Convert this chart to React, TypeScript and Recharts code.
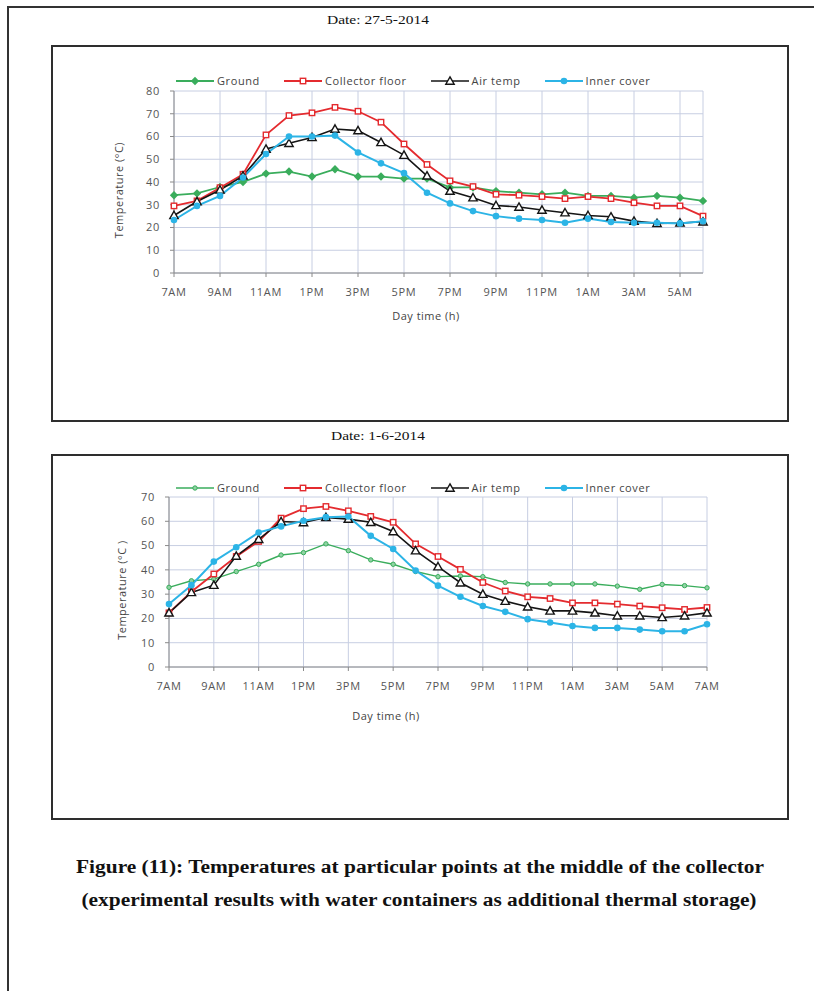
import React from 'react';
import { LineChart, Line, XAxis, YAxis, CartesianGrid, Legend } from 'recharts';

// hour labels (one per reading)
const hoursDay1 = ['7AM', '8AM', '9AM', '10AM', '11AM', '12PM', '1PM', '2PM', '3PM', '4PM', '5PM', '6PM',
  '7PM', '8PM', '9PM', '10PM', '11PM', '12AM', '1AM', '2AM', '3AM', '4AM', '5AM', '6AM'];
const hoursDay2 = ['7AM', '8AM', '9AM', '10AM', '11AM', '12PM', '1PM', '2PM', '3PM', '4PM', '5PM', '6PM',
  '7PM', '8PM', '9PM', '10PM', '11PM', '12AM', '1AM', '2AM', '3AM', '4AM', '5AM', '6AM', '7AM'];

// Date: 27-5-2014
const groundDay1 = [34.2, 35, 37.8, 40, 43.7, 44.6, 42.4, 45.6, 42.4, 42.4, 41.5, 41.5, 37.6, 37.6, 36, 35.3, 34.6, 35.3, 33.9, 33.9, 33.1, 33.9, 33.1, 31.7];
const collectorDay1 = [29.5, 31.7, 37.5, 43.4, 60.7, 69.2, 70.4, 72.8, 71.1, 66.3, 56.7, 47.7, 40.5, 38, 34.6, 34.2, 33.6, 32.7, 33.6, 32.7, 30.9, 29.5, 29.5, 25];
const airDay1 = [25.3, 31.4, 36.5, 42.7, 54.5, 57, 59.6, 63.3, 62.6, 57.4, 51.8, 42.7, 36, 33.1, 29.7, 29, 27.7, 26.5, 25.3, 24.7, 22.8, 21.8, 22, 22.5];
const innerDay1 = [23.3, 29.5, 33.9, 42, 52.3, 60, 60, 60.4, 53, 48.2, 43.9, 35.3, 30.6, 27.2, 25, 23.9, 23.3, 22.1, 23.9, 22.4, 22.1, 22.1, 21.8, 22.8];

// Date: 1-6-2014
const groundDay2 = [32.8, 35.5, 36.2, 39.3, 42.3, 46.1, 47.1, 50.7, 47.9, 44.1, 42.3, 39.3, 37.2, 37.5, 37.2, 34.8, 34.2, 34.2, 34.2, 34.2, 33.3, 32, 34, 33.5, 32.6];
const collectorDay2 = [22.3, 31, 38.3, 45.5, 51.7, 61.3, 65.2, 66.1, 64.3, 62, 59.6, 50.7, 45.5, 40.2, 34.8, 31.3, 28.9, 28.2, 26.4, 26.4, 25.9, 25.1, 24.4, 23.7, 24.5];
const airDay2 = [22.3, 30.7, 33.7, 45.7, 52.6, 59.9, 59.5, 61.6, 60.9, 59.6, 55.8, 47.9, 41.3, 34.7, 30, 27.1, 24.8, 23.1, 23.1, 22.3, 21.1, 21.1, 20.4, 21.1, 22.3];
const innerDay2 = [25.9, 33.7, 43.4, 49.3, 55.4, 57.9, 60.2, 61.7, 62, 54, 48.6, 39.7, 33.5, 28.9, 25.1, 22.7, 19.7, 18.3, 16.9, 16.1, 16.1, 15.4, 14.7, 14.7, 17.6];

const yTicksDay1 = [0, 10, 20, 30, 40, 50, 60, 70, 80];
const yTicksDay2 = [0, 10, 20, 30, 40, 50, 60, 70];
const xTicksDay1 = [0, 2, 4, 6, 8, 10, 12, 14, 16, 18, 20, 22];
const xTicksDay2 = [0, 2, 4, 6, 8, 10, 12, 14, 16, 18, 20, 22, 24];

const GREEN = '#3aad5c';
const RED = '#e42b2f';
const BLACK = '#151515';
const CYAN = '#2cb4e6';
const GRID = '#c7cee2';
const AXIS = '#8a8a8a';
const TEXT = '#555';
const FONT = '"Open Sans", sans-serif';

type Marker = 'diamond' | 'square' | 'triangle' | 'circle' | 'dot';

const drawMarker = (m: Marker, x: number, y: number, c: string) => {
  switch (m) {
    case 'diamond':
      return <path d={`M${x},${y - 4.2}L${x + 4.2},${y}L${x},${y + 4.2}L${x - 4.2},${y}Z`} fill={c} />;
    case 'square':
      return <rect x={x - 2.7} y={y - 2.7} width={5.4} height={5.4} fill="#fff" stroke={c} strokeWidth={1.4} />;
    case 'triangle':
      return <path d={`M${x},${y - 4.2}L${x + 4.2},${y + 3.2}L${x - 4.2},${y + 3.2}Z`} fill="#fff" stroke={c} strokeWidth={1.4} />;
    case 'circle':
      return <circle cx={x} cy={y} r={3.3} fill={c} />;
    default:
      return <circle cx={x} cy={y} r={2.2} fill="#8fd3a3" stroke={c} strokeWidth={1} />;
  }
};

type Series = { key: string; name: string; color: string; marker: Marker; width: number };

const seriesDay1: Series[] = [
  { key: 'ground', name: 'Ground', color: GREEN, marker: 'diamond', width: 1.8 },
  { key: 'collector', name: 'Collector floor', color: RED, marker: 'square', width: 1.8 },
  { key: 'air', name: 'Air temp', color: BLACK, marker: 'triangle', width: 1.6 },
  { key: 'inner', name: 'Inner cover', color: CYAN, marker: 'circle', width: 2 },
];
const seriesDay2: Series[] = [
  { ...seriesDay1[0], marker: 'dot', width: 1.4 },
  seriesDay1[1],
  seriesDay1[2],
  seriesDay1[3],
];

const day1 = hoursDay1.map((h, i) => ({
  t: i, hour: h, ground: groundDay1[i], collector: collectorDay1[i], air: airDay1[i], inner: innerDay1[i],
}));
const day2 = hoursDay2.map((h, i) => ({
  t: i, hour: h, ground: groundDay2[i], collector: collectorDay2[i], air: airDay2[i], inner: innerDay2[i],
}));

const LegendRow = ({ series, left }: { series: Series[]; left: number }) => (
  <div style={{ display: 'flex', alignItems: 'center', paddingLeft: left, gap: 24, fontFamily: FONT, fontSize: 11, color: '#444', letterSpacing: 0.6 }}>
    {series.map((s) => (
      <div key={s.key} style={{ display: 'flex', alignItems: 'center' }}>
        <svg width={38} height={12}>
          <line x1={0} y1={6} x2={38} y2={6} stroke={s.color} strokeWidth={s.width} />
          {drawMarker(s.marker, 19, 6, s.color)}
        </svg>
        <span style={{ marginLeft: 3 }}>{s.name}</span>
      </div>
    ))}
  </div>
);

type PanelProps = {
  top: number;
  height: number;
  data: any[];
  series: Series[];
  yMax: number;
  yTicks: number[];
  xTicks: number[];
  hours: string[];
  margin: { top: number; right: number; bottom: number; left: number };
  legendTop: number;
  legendLeft: number;
  yTitle: string;
  yTitlePos: [number, number];
  xTitlePos: [number, number];
};

const Panel = (p: PanelProps) => (
  <div style={{ position: 'absolute', left: 0, top: p.top }}>
    <LineChart width={814} height={p.height} data={p.data} margin={p.margin}>
      <CartesianGrid stroke={GRID} strokeWidth={1} />
      <XAxis
        type="number"
        dataKey="t"
        domain={[0, p.hours.length - 1]}
        ticks={p.xTicks}
        interval={0}
        tickFormatter={(v: number) => p.hours[v]}
        stroke={AXIS}
        tickSize={4}
        tickMargin={11}
        height={30}
        tick={{ fill: TEXT, fontSize: 11, fontFamily: FONT, letterSpacing: 0.7 }}
        label={{
          content: () => (
            <text x={p.xTitlePos[0]} y={p.xTitlePos[1]} textAnchor="middle" dominantBaseline="central"
              fill="#444" fontSize={11} fontFamily={FONT} letterSpacing={0.5}>
              Day time (h)
            </text>
          ),
        }}
      />
      <YAxis
        domain={[0, p.yMax]}
        ticks={p.yTicks}
        interval={0}
        stroke={AXIS}
        tickSize={4}
        tickMargin={10}
        width={40}
        tick={{ fill: TEXT, fontSize: 11, fontFamily: FONT, letterSpacing: 0.7 }}
        label={{
          content: () => (
            <text x={p.yTitlePos[0]} y={p.yTitlePos[1]} textAnchor="middle" dominantBaseline="central"
              transform={`rotate(-90, ${p.yTitlePos[0]}, ${p.yTitlePos[1]})`}
              fill="#444" fontSize={11} fontFamily={FONT} letterSpacing={0.5}>
              {p.yTitle}
            </text>
          ),
        }}
      />
      <Legend
        verticalAlign="middle"
        align="center"
        layout="horizontal"
        wrapperStyle={{ top: p.legendTop, left: 0, width: 814 }}
        content={() => <LegendRow series={p.series} left={p.legendLeft} />}
      />
      {p.series.map((s) => (
        <Line
          key={s.key}
          type="linear"
          dataKey={s.key}
          name={s.name}
          stroke={s.color}
          strokeWidth={s.width}
          isAnimationActive={false}
          dot={(d: any) => (
            <g key={`${s.key}-${d.index}`}>{drawMarker(s.marker, d.cx, d.cy, s.color)}</g>
          )}
          activeDot={false}
        />
      ))}
    </LineChart>
  </div>
);

const SerifLine = ({ text, cx, y, size, width, bold }: { text: string; cx: number; y: number; size: number; width: number; bold?: boolean }) => (
  <svg width={814} height={size + 10} style={{ position: 'absolute', left: 0, top: y - (size + 10) / 2 }}>
    <text x={cx} y={(size + 10) / 2} textAnchor="middle" dominantBaseline="central" textLength={width}
      lengthAdjust="spacingAndGlyphs" fontFamily='"Liberation Serif", "Times New Roman", serif'
      fontWeight={bold ? 700 : 400} fontSize={size} fill="#111">
      {text}
    </text>
  </svg>
);

export default function App() {
  return (
    <div style={{ position: 'absolute', left: 0, top: 0, width: 814, height: 991, background: '#fff', overflow: 'hidden' }}>
      <div style={{ position: 'absolute', left: 7, top: 6, width: 840, height: 1020, border: '2px solid #333' }} />
      <div style={{ position: 'absolute', left: 51, top: 45, width: 734, height: 373, border: '2px solid #2e2e2e' }} />
      <div style={{ position: 'absolute', left: 51, top: 454, width: 734, height: 362, border: '2px solid #2e2e2e' }} />

      <SerifLine text="Date: 27-5-2014" cx={378} y={20} size={12.5} width={102} />
      <SerifLine text="Date: 1-6-2014" cx={378} y={436} size={12.5} width={94} />

      <Panel
        top={46}
        height={300}
        data={day1}
        series={seriesDay1}
        yMax={80}
        yTicks={yTicksDay1}
        xTicks={xTicksDay1}
        hours={hoursDay1}
        margin={{ top: 45, right: 111, bottom: 43, left: 134 }}
        legendTop={27}
        legendLeft={176}
        yTitle="Temperature (°C)"
        yTitlePos={[118, 144]}
        xTitlePos={[426, 269]}
      />
      <Panel
        top={455}
        height={290}
        data={day2}
        series={seriesDay2}
        yMax={70}
        yTicks={yTicksDay2}
        xTicks={xTicksDay2}
        hours={hoursDay2}
        margin={{ top: 42, right: 107, bottom: 48, left: 129 }}
        legendTop={25}
        legendLeft={176}
        yTitle="Temperature (°C )"
        yTitlePos={[121, 135]}
        xTitlePos={[386, 260]}
      />

      <SerifLine text="Figure (11): Temperatures at particular points at the middle of the collector" cx={420} y={867} size={18} width={688} bold />
      <SerifLine text="(experimental results with water containers as additional thermal storage)" cx={419} y={900} size={18} width={675} bold />
    </div>
  );
}
